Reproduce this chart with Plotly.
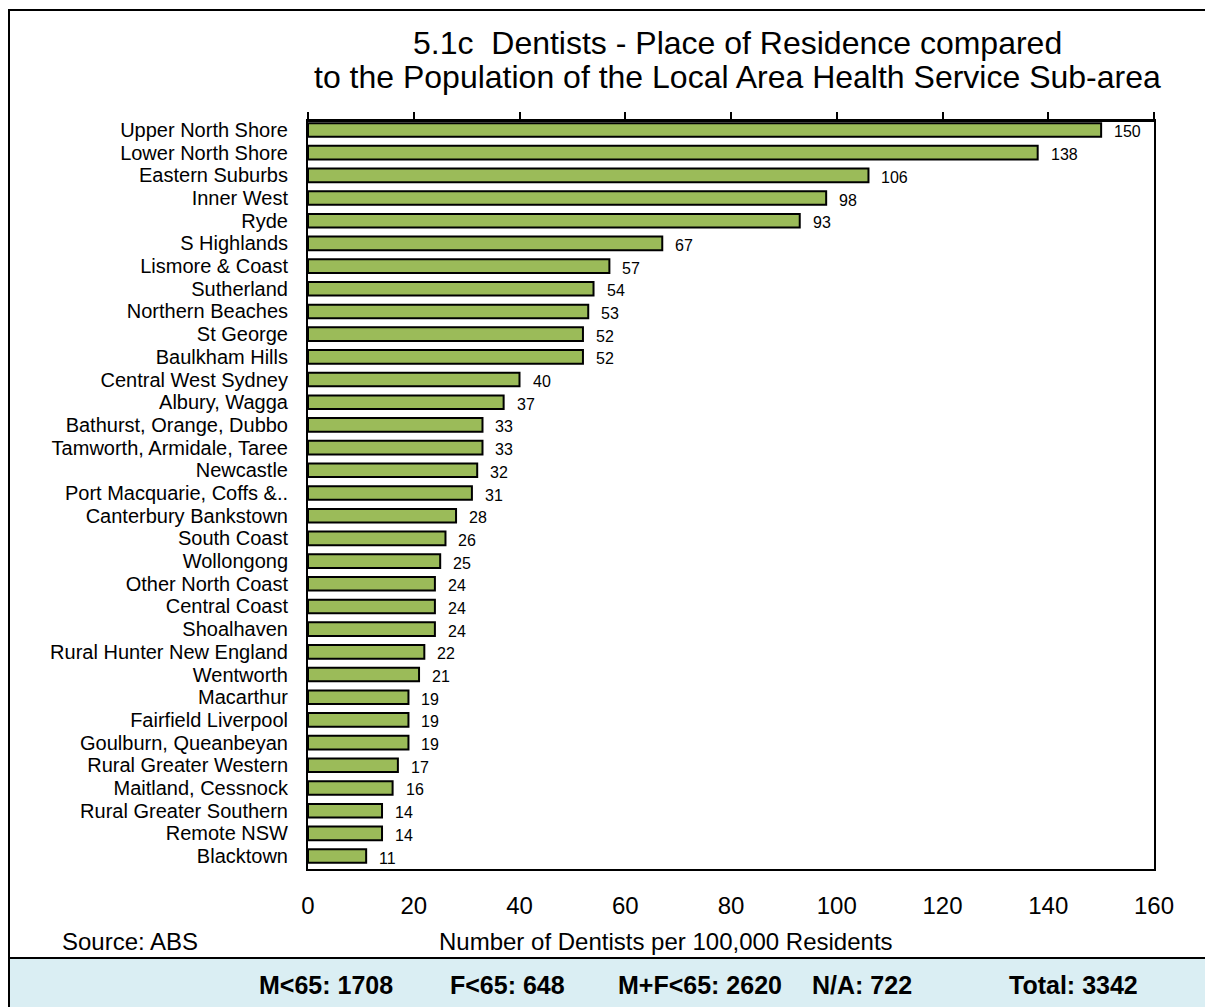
import plotly.graph_objects as go

categories = [
    "Upper North Shore", "Lower North Shore", "Eastern Suburbs", "Inner West", "Ryde",
    "S Highlands", "Lismore & Coast", "Sutherland", "Northern Beaches", "St George",
    "Baulkham Hills", "Central West Sydney", "Albury, Wagga", "Bathurst, Orange, Dubbo",
    "Tamworth, Armidale, Taree", "Newcastle", "Port Macquarie, Coffs &..",
    "Canterbury Bankstown", "South Coast", "Wollongong", "Other North Coast",
    "Central Coast", "Shoalhaven", "Rural Hunter New England", "Wentworth",
    "Macarthur", "Fairfield Liverpool", "Goulburn, Queanbeyan", "Rural Greater Western",
    "Maitland, Cessnock", "Rural Greater Southern", "Remote NSW", "Blacktown",
]
values = [150, 138, 106, 98, 93, 67, 57, 54, 53, 52, 52, 40, 37, 33, 33, 32, 31,
          28, 26, 25, 24, 24, 24, 22, 21, 19, 19, 19, 17, 16, 14, 14, 11]
x_ticks = [0, 20, 40, 60, 80, 100, 120, 140, 160]
title_lines = ["5.1c  Dentists - Place of Residence compared",
               "to the Population of the Local Area Health Service Sub-area"]
summary_labels = ["M<65: 1708", "F<65: 648", "M+F<65: 2620", "N/A: 722", "Total: 3342"]

# page body has an 8px margin; figure origin sits at page (8, 8)
OFF = 8
W, H = 1213 - OFF, 1007 - OFF
L, R, T, B = 308, 1154, 122, 869   # plot area in page coordinates
FONT = "Liberation Sans, Arial, sans-serif"

def px(x):
    return (x - L) / (R - L)

def py(y):
    return (B - y) / (B - T)

n = len(categories)

fig = go.Figure()
fig.add_trace(go.Bar(
    x=values, y=categories, orientation="h",
    marker=dict(color="#9BBB59", line=dict(color="black", width=2)),
    width=0.6, showlegend=False, hoverinfo="x+y",
))
# invisible trace so the top (tick-mark) axis is drawn
fig.add_trace(go.Scatter(
    x=values, y=categories, xaxis="x2", mode="markers",
    marker=dict(opacity=0), showlegend=False, hoverinfo="skip",
))

annotations = []
for c, v in zip(categories, values):
    annotations.append(dict(x=v, y=c, xref="x", yref="y", text=str(v), showarrow=False,
                            xanchor="left", yanchor="middle", xshift=11, yshift=-2,
                            font=dict(size=16, color="black", family=FONT)))

annotations.append(dict(x=px(737), y=py(43), xref="paper", yref="paper", text=title_lines[0],
                        showarrow=False, xanchor="center", yanchor="middle",
                        font=dict(size=32, color="black", family=FONT)))
annotations.append(dict(x=px(737), y=py(77), xref="paper", yref="paper", text=title_lines[1],
                        showarrow=False, xanchor="center", yanchor="middle",
                        font=dict(size=32, color="black", family=FONT)))
annotations.append(dict(x=px(60), y=py(941), xref="paper", yref="paper", text="Source: ABS",
                        showarrow=False, xanchor="left", yanchor="middle",
                        font=dict(size=24, color="black", family=FONT)))
annotations.append(dict(x=px(666), y=py(941), xref="paper", yref="paper",
                        text="Number of Dentists per 100,000 Residents",
                        showarrow=False, xanchor="center", yanchor="middle",
                        font=dict(size=24, color="black", family=FONT)))
summary_x = [326, 507, 700, 862, 1073]
for sx, s in zip(summary_x, summary_labels):
    annotations.append(dict(x=px(sx), y=py(985), xref="paper", yref="paper", text="<b>%s</b>" % s,
                            showarrow=False, xanchor="center", yanchor="middle",
                            font=dict(size=25, color="black", family=FONT)))

shapes = [
    # outer border
    dict(type="rect", xref="paper", yref="paper", x0=px(9), x1=px(1212), y0=py(1006), y1=py(10),
         line=dict(color="black", width=2), fillcolor="rgba(0,0,0,0)", layer="below"),
    # summary band
    dict(type="rect", xref="paper", yref="paper", x0=px(9), x1=px(1214), y0=py(1008), y1=py(958),
         line=dict(color="black", width=2), fillcolor="#DAEEF3", layer="below"),
]

fig.update_layout(
    width=W, height=H,
    margin=dict(l=L - OFF, r=1213 - R, t=T - OFF, b=1007 - B, pad=0),
    paper_bgcolor="white", plot_bgcolor="white",
    font=dict(family=FONT, color="black"),
    xaxis=dict(range=[0, 160], tickvals=x_ticks, ticks="", showgrid=False, zeroline=False,
               showline=True, linecolor="black", linewidth=1.5, side="bottom",
               tickfont=dict(size=24, family=FONT, color="black"), ticklabelstandoff=14,
               fixedrange=True),
    xaxis2=dict(range=[0, 160], tickvals=x_ticks, overlaying="x", side="top", ticks="outside",
                ticklen=7, tickwidth=1.5, tickcolor="black", showticklabels=False,
                showgrid=False, zeroline=False, showline=True, linecolor="black", linewidth=3,
                anchor="y", fixedrange=True),
    yaxis=dict(range=[n - 1 + 0.57, -0.35], tickmode="array", tickvals=categories,
               ticktext=categories, ticks="", showgrid=False, zeroline=False, showline=True,
               linecolor="black", linewidth=2, mirror=True,
               tickfont=dict(size=20, family=FONT, color="black"), ticklabelstandoff=14,
               fixedrange=True),
    annotations=annotations, shapes=shapes,
)

fig.write_html("out.html")
